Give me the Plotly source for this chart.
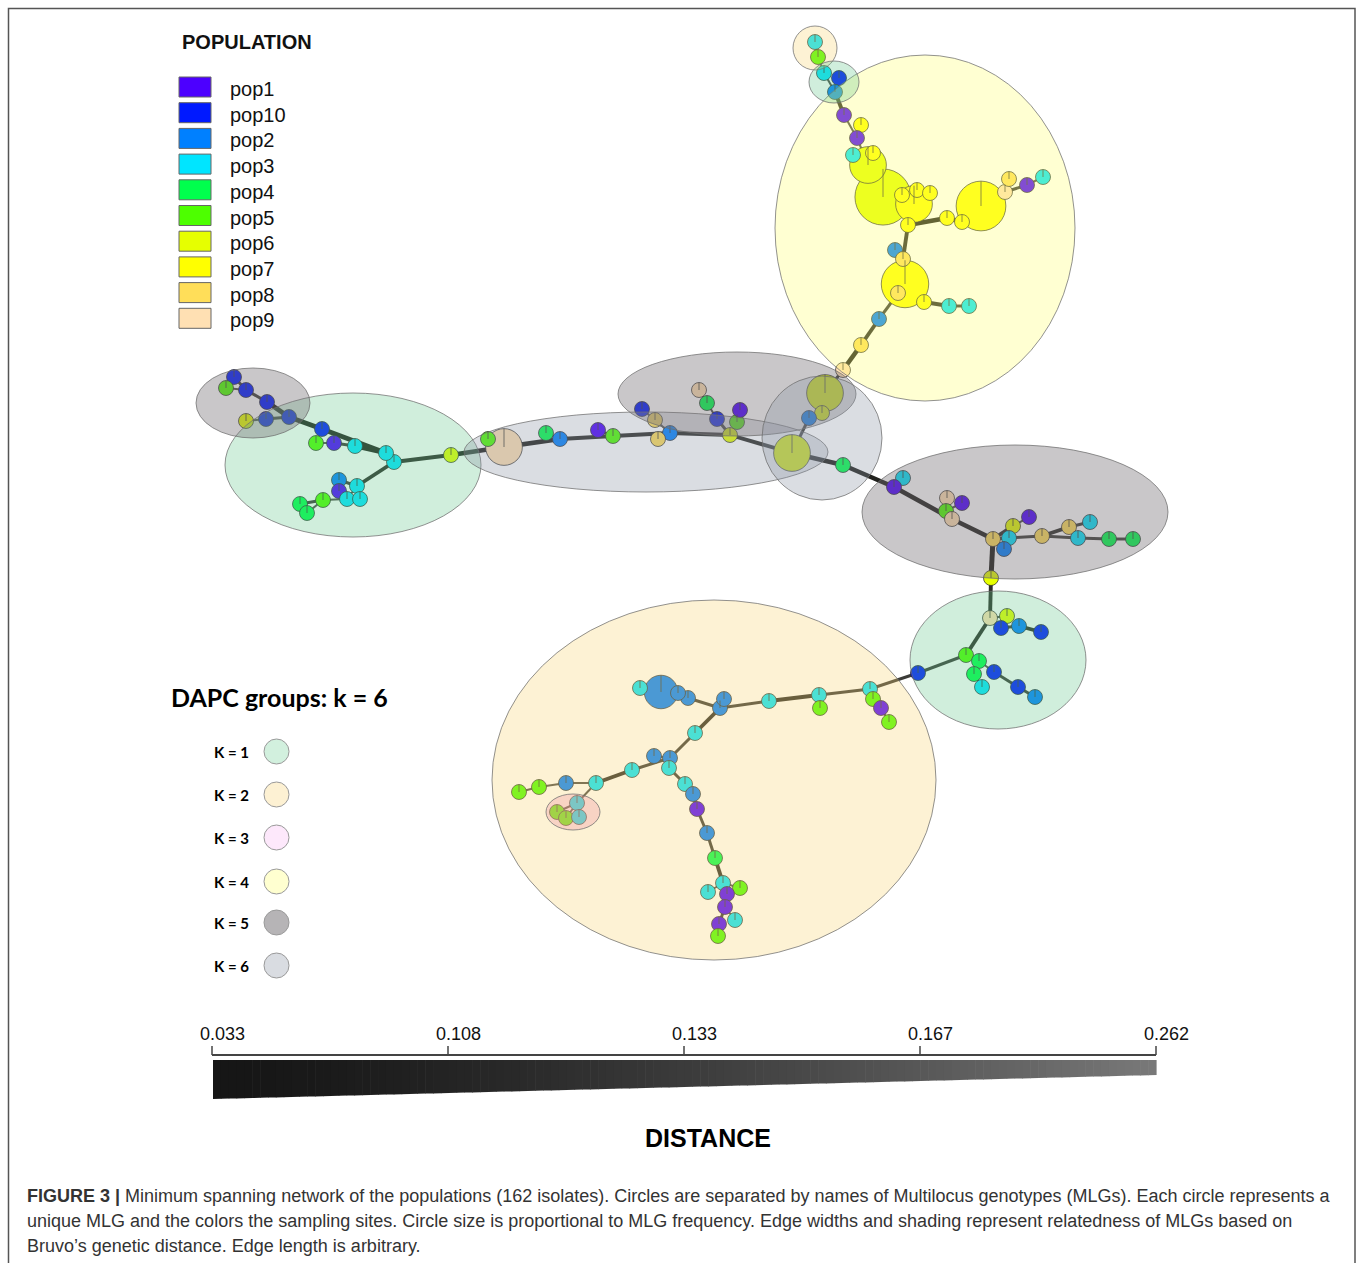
import numpy as np
import plotly.graph_objects as go

W, H = 1360, 1263

# ---------------- populations (legend) ----------------
POPS = ["pop1", "pop10", "pop2", "pop3", "pop4", "pop5", "pop6", "pop7", "pop8", "pop9"]
POP_COLORS = ["#4C00FF", "#0019FF", "#0080FF", "#00E5FF", "#00FF4D",
              "#4DFF00", "#E6FF00", "#FFFF00", "#FFDE59", "#FFE0B3"]

# ---------------- network nodes: (id, x, y, MLG count, population) ----------------
top_nodes = [
    ("T0", 815, 42, 1, "pop3"), ("T1", 818, 57, 1, "pop5"), ("T2", 824, 73, 1, "pop3"),
    ("T3", 839, 78, 1, "pop10"), ("T4", 835, 92, 1, "pop2"), ("T5", 844, 115, 1, "pop1"),
    ("T6", 861, 125, 1, "pop7"), ("T7", 857, 138, 1, "pop1"), ("T8", 853, 155, 1, "pop3"),
    ("T9", 868, 165, 6, "pop6"), ("T10", 873, 153, 1, "pop7"), ("T11", 883, 197, 14, "pop6"),
    ("T12", 902, 195, 1, "pop7"), ("T13", 914, 204, 6, "pop7"), ("T14", 917, 190, 1, "pop7"),
    ("T15", 930, 193, 1, "pop7"), ("T16", 908, 225, 1, "pop7"), ("T17", 947, 218, 1, "pop7"),
    ("T18", 962, 222, 1, "pop7"), ("T19", 981, 206, 11, "pop7"), ("T20", 1005, 192, 1, "pop9"),
    ("T21", 1009, 179, 1, "pop8"), ("T22", 1027, 185, 1, "pop1"), ("T23", 1043, 177, 1, "pop3"),
    ("T24", 895, 250, 1, "pop2"), ("T25", 903, 259, 1, "pop8"), ("T26", 905, 284, 10, "pop7"),
    ("T27", 898, 293, 1, "pop8"), ("T28", 924, 302, 1, "pop7"), ("T29", 949, 306, 1, "pop3"),
    ("T30", 969, 306, 1, "pop3"), ("T31", 879, 319, 1, "pop2"), ("T32", 861, 345, 1, "pop8"),
    ("T33", 843, 370, 1, "pop9"),
]
mid_nodes = [
    ("M0", 825, 393, 6, "pop6"), ("M1", 822, 413, 1, "pop6"), ("M2", 809, 418, 1, "pop2"),
    ("M3", 792, 453, 6, "pop6"), ("M4", 843, 465, 1, "pop4"), ("M6", 730, 435, 1, "pop6"),
    ("M7", 737, 422, 1, "pop5"), ("M8", 740, 410, 1, "pop1"), ("M9", 717, 419, 1, "pop10"),
    ("M10", 707, 403, 1, "pop4"), ("M11", 699, 390, 1, "pop9"), ("M12", 670, 433, 1, "pop2"),
    ("M13", 658, 439, 1, "pop8"), ("M14", 655, 420, 1, "pop8"), ("M15", 642, 409, 1, "pop10"),
    ("M16", 613, 436, 1, "pop5"), ("M17", 598, 430, 1, "pop1"), ("M18", 560, 439, 1, "pop2"),
    ("M19", 546, 433, 1, "pop4"), ("M20", 504, 447, 6, "pop9"), ("M21", 488, 439, 1, "pop5"),
    ("M22", 451, 455, 1, "pop6"),
]
left_nodes = [
    ("L0", 394, 462, 1, "pop3"), ("L1", 386, 453, 1, "pop3"), ("L2", 355, 446, 1, "pop3"),
    ("L3", 334, 443, 1, "pop1"), ("L4", 316, 443, 1, "pop5"), ("L5", 322, 429, 1, "pop10"),
    ("L6", 289, 417, 1, "pop10"), ("L7", 266, 419, 1, "pop10"), ("L8", 246, 421, 1, "pop6"),
    ("L9", 267, 402, 1, "pop10"), ("L10", 246, 390, 1, "pop10"), ("L11", 234, 377, 1, "pop10"),
    ("L12", 226, 388, 1, "pop5"), ("L13", 357, 486, 1, "pop3"), ("L14", 339, 480, 1, "pop2"),
    ("L15", 339, 491, 1, "pop1"), ("L16", 347, 499, 1, "pop3"), ("L17", 360, 499, 1, "pop3"),
    ("L18", 323, 500, 1, "pop5"), ("L19", 300, 504, 1, "pop4"), ("L20", 307, 513, 1, "pop4"),
]
right_nodes = [
    ("R0", 903, 478, 1, "pop3"), ("R1", 894, 487, 1, "pop1"), ("R2", 947, 498, 1, "pop9"),
    ("R3", 962, 503, 1, "pop1"), ("R4", 946, 511, 1, "pop5"), ("R5", 952, 519, 1, "pop9"),
    ("R6", 993, 539, 1, "pop8"), ("R7", 1013, 526, 1, "pop6"), ("R8", 1029, 517, 1, "pop1"),
    ("R9", 1009, 538, 1, "pop3"), ("R10", 1004, 549, 1, "pop2"), ("R11", 1042, 536, 1, "pop8"),
    ("R12", 1069, 527, 1, "pop8"), ("R13", 1090, 522, 1, "pop3"), ("R14", 1078, 538, 1, "pop3"),
    ("R15", 1109, 539, 1, "pop4"), ("R16", 1133, 539, 1, "pop4"), ("R17", 991, 578, 1, "pop6"),
    ("R18", 990, 618, 1, "pop9"), ("R19", 1007, 616, 1, "pop6"), ("R20", 1001, 628, 1, "pop10"),
    ("R21", 1019, 626, 1, "pop2"), ("R22", 1041, 632, 1, "pop10"), ("R23", 966, 655, 1, "pop5"),
    ("R24", 979, 661, 1, "pop4"), ("R25", 974, 674, 1, "pop4"), ("R26", 994, 672, 1, "pop10"),
    ("R27", 982, 687, 1, "pop3"), ("R28", 1018, 687, 1, "pop10"), ("R29", 1035, 697, 1, "pop2"),
]
bottom_nodes = [
    ("B0", 918, 673, 1, "pop10"), ("B1", 870, 689, 1, "pop3"), ("B2", 873, 699, 1, "pop5"),
    ("B3", 881, 708, 1, "pop1"), ("B4", 889, 722, 1, "pop5"), ("B5", 819, 695, 1, "pop3"),
    ("B6", 820, 708, 1, "pop5"), ("B7", 769, 701, 1, "pop3"), ("B8", 720, 708, 1, "pop2"),
    ("B9", 724, 699, 1, "pop2"), ("B10", 688, 698, 1, "pop2"), ("B11", 678, 693, 1, "pop2"),
    ("B12", 661, 692, 5, "pop2"), ("B13", 640, 688, 1, "pop3"), ("B14", 695, 733, 1, "pop3"),
    ("B15", 670, 758, 1, "pop2"), ("B16", 654, 756, 1, "pop2"), ("B17", 669, 768, 1, "pop3"),
    ("B18", 632, 770, 1, "pop3"), ("B19", 596, 783, 1, "pop3"), ("B20", 566, 783, 1, "pop2"),
    ("B21", 539, 787, 1, "pop5"), ("B22", 519, 792, 1, "pop5"), ("B23", 577, 803, 1, "pop3"),
    ("B24", 557, 812, 1, "pop5"), ("B25", 566, 818, 1, "pop5"), ("B26", 579, 817, 1, "pop3"),
    ("B27", 685, 784, 1, "pop3"), ("B28", 693, 794, 1, "pop2"), ("B29", 697, 809, 1, "pop1"),
    ("B30", 707, 833, 1, "pop2"), ("B31", 715, 858, 1, "pop4"), ("B32", 723, 883, 1, "pop3"),
    ("B33", 708, 892, 1, "pop3"), ("B34", 740, 888, 1, "pop5"), ("B35", 727, 894, 1, "pop1"),
    ("B36", 725, 907, 1, "pop1"), ("B37", 735, 920, 1, "pop3"), ("B38", 719, 924, 1, "pop1"),
    ("B39", 718, 936, 1, "pop5"),
]

# ---------------- network edges: (from, to, Bruvo distance) ----------------
top_edges = [
    ("T0", "T1", 0.2), ("T1", "T2", 0.2), ("T2", "T4", 0.2), ("T3", "T4", 0.2), ("T4", "T5", 0.1),
    ("T5", "T7", 0.2), ("T6", "T7", 0.2), ("T7", "T9", 0.2), ("T8", "T9", 0.2), ("T10", "T9", 0.2),
    ("T9", "T11", 0.15), ("T11", "T13", 0.15), ("T12", "T11", 0.2), ("T14", "T13", 0.2),
    ("T15", "T13", 0.2), ("T13", "T16", 0.1), ("T16", "T17", 0.06), ("T17", "T18", 0.1),
    ("T18", "T19", 0.1), ("T19", "T20", 0.2), ("T20", "T21", 0.2), ("T20", "T22", 0.15),
    ("T22", "T23", 0.2), ("T16", "T25", 0.1), ("T24", "T25", 0.2), ("T25", "T26", 0.15),
    ("T26", "T27", 0.2), ("T26", "T28", 0.15), ("T28", "T29", 0.1), ("T29", "T30", 0.15),
    ("T26", "T31", 0.15), ("T31", "T32", 0.1), ("T32", "T33", 0.06), ("T33", "M0", 0.15),
]
mid_edges = [
    ("M0", "M1", 0.15), ("M1", "M2", 0.15), ("M2", "M3", 0.15), ("M3", "M4", 0.06),
    ("M3", "M6", 0.1), ("M6", "M7", 0.2), ("M7", "M8", 0.2), ("M6", "M9", 0.15),
    ("M9", "M10", 0.2), ("M10", "M11", 0.2), ("M6", "M12", 0.1), ("M12", "M13", 0.2),
    ("M12", "M14", 0.2), ("M14", "M15", 0.2), ("M12", "M16", 0.1), ("M16", "M17", 0.15),
    ("M16", "M18", 0.1), ("M18", "M19", 0.15), ("M18", "M20", 0.06), ("M20", "M21", 0.15),
    ("M20", "M22", 0.06), ("M22", "L0", 0.1),
]
left_edges = [
    ("L0", "L1", 0.1), ("L1", "L2", 0.06), ("L2", "L3", 0.15), ("L3", "L4", 0.2),
    ("L1", "L5", 0.06), ("L5", "L6", 0.06), ("L6", "L7", 0.15), ("L7", "L8", 0.2),
    ("L6", "L9", 0.06), ("L9", "L10", 0.15), ("L10", "L11", 0.15), ("L10", "L12", 0.2),
    ("L0", "L13", 0.1), ("L13", "L14", 0.15), ("L14", "L15", 0.2), ("L13", "L16", 0.2),
    ("L13", "L17", 0.2), ("L16", "L18", 0.2), ("L18", "L19", 0.15), ("L19", "L20", 0.15),
    ("L18", "L20", 0.2),
]
right_edges = [
    ("M4", "R1", 0.06), ("R1", "R0", 0.2), ("R1", "R5", 0.06), ("R2", "R4", 0.2),
    ("R3", "R4", 0.2), ("R4", "R5", 0.2), ("R5", "R6", 0.06), ("R6", "R7", 0.1),
    ("R7", "R8", 0.2), ("R6", "R9", 0.15), ("R9", "R10", 0.2), ("R6", "R11", 0.15),
    ("R11", "R14", 0.15), ("R11", "R12", 0.1), ("R12", "R13", 0.15), ("R14", "R15", 0.15),
    ("R15", "R16", 0.15), ("R6", "R17", 0.04), ("R17", "R18", 0.1), ("R18", "R19", 0.2),
    ("R18", "R20", 0.2), ("R20", "R21", 0.15), ("R21", "R22", 0.1), ("R18", "R23", 0.1),
    ("R23", "R24", 0.2), ("R24", "R25", 0.2), ("R24", "R26", 0.2), ("R25", "R27", 0.2),
    ("R26", "R28", 0.15), ("R28", "R29", 0.15), ("R23", "B0", 0.15),
]
bottom_edges = [
    ("B0", "B1", 0.15), ("B1", "B2", 0.2), ("B2", "B3", 0.2), ("B3", "B4", 0.2),
    ("B1", "B5", 0.15), ("B5", "B6", 0.2), ("B5", "B7", 0.1), ("B7", "B8", 0.15),
    ("B8", "B9", 0.2), ("B8", "B10", 0.15), ("B10", "B11", 0.2), ("B11", "B12", 0.2),
    ("B12", "B13", 0.2), ("B8", "B14", 0.1), ("B14", "B15", 0.15), ("B15", "B16", 0.2),
    ("B15", "B17", 0.2), ("B15", "B18", 0.15), ("B18", "B19", 0.1), ("B19", "B20", 0.2),
    ("B20", "B21", 0.2), ("B21", "B22", 0.2), ("B19", "B23", 0.2), ("B23", "B24", 0.2),
    ("B23", "B25", 0.2), ("B23", "B26", 0.2), ("B17", "B27", 0.15), ("B27", "B28", 0.15),
    ("B28", "B29", 0.15), ("B29", "B30", 0.15), ("B30", "B31", 0.15), ("B31", "B32", 0.1),
    ("B32", "B33", 0.2), ("B32", "B34", 0.2), ("B32", "B35", 0.15), ("B35", "B36", 0.15),
    ("B36", "B37", 0.2), ("B36", "B38", 0.15), ("B38", "B39", 0.2),
]

# ---------------- DAPC group ellipses: (K, cx, cy, rx, ry) ----------------
dapc_ellipses = [
    (4, 925, 228, 150, 173),
    (2, 815, 48, 22, 22),
    (1, 834, 82, 25, 21),
    (1, 353, 465, 128, 72),
    (5, 253, 403, 57, 35),
    (6, 646, 452, 182, 40),
    (5, 737, 394, 119, 42),
    (6, 822, 438, 60, 62),
    (5, 1015, 512, 153, 67),
    (1, 998, 660, 88, 69),
    (2, 714, 780, 222, 180),
    (3, 573, 812, 27, 18),
]
DAPC_K = [1, 2, 3, 4, 5, 6]
DAPC_LEGEND_FILL = ["#d2f0de", "#fdf1d3", "#fde8fb", "#ffffd0", "#b6b4b6", "#d9dce1"]
DAPC_OVERLAY = {1: "rgba(98,198,138,0.30)", 2: "rgba(248,212,112,0.30)",
                3: "rgba(240,140,160,0.30)", 4: "rgba(255,255,105,0.30)",
                5: "rgba(120,115,120,0.40)", 6: "rgba(140,150,165,0.32)"}

# ---------------- distance scale ----------------
CB_TICKS = ["0.033", "0.108", "0.133", "0.167", "0.262"]
D_MIN, D_MAX = 0.033, 0.262

CAPTION = [
    "<b>FIGURE 3 |</b> Minimum spanning network of the populations (162 isolates). Circles are separated by names of Multilocus genotypes (MLGs). Each circle represents a",
    "unique MLG and the colors the sampling sites. Circle size is proportional to MLG frequency. Edge widths and shading represent relatedness of MLGs based on",
    "Bruvo\u2019s genetic distance. Edge length is arbitrary.",
]

# =====================================================================
nodes = top_nodes + mid_nodes + left_nodes + right_nodes + bottom_nodes
edges = top_edges + mid_edges + left_edges + right_edges + bottom_edges
pos = {n[0]: (n[1], n[2]) for n in nodes}
pcol = dict(zip(POPS, POP_COLORS))

fig = go.Figure()


def edge_width(d):
    return 0.9 + 4.2 * (D_MAX - d) / (D_MAX - D_MIN)


def edge_gray(d):
    g = int(25 + 70 * (d - D_MIN) / (D_MAX - D_MIN))
    return f"rgb({g},{g},{g - 4})"


for d in sorted(set(e[2] for e in edges)):
    xs, ys = [], []
    for a, b, dd in edges:
        if dd == d:
            xs += [pos[a][0], pos[b][0], None]
            ys += [pos[a][1], pos[b][1], None]
    fig.add_trace(go.Scatter(x=xs, y=ys, mode="lines",
                             line=dict(color=edge_gray(d), width=edge_width(d)),
                             hoverinfo="skip"))

sorted_nodes = sorted(nodes, key=lambda n: -n[3])
diam = [15 * np.sqrt(n[3]) for n in sorted_nodes]
fig.add_trace(go.Scatter(
    x=[n[1] for n in sorted_nodes], y=[n[2] for n in sorted_nodes], mode="markers",
    marker=dict(size=diam, color=[pcol[n[4]] for n in sorted_nodes],
                line=dict(color="rgba(45,45,45,0.75)", width=1), opacity=1),
    text=[f"{n[0]} ({n[4]})" for n in sorted_nodes], hoverinfo="text"))

# pie separator ticks inside each node
tx, ty = [], []
for n, dm in zip(sorted_nodes, diam):
    tx += [n[1], n[1], None]
    ty += [n[2], n[2] - dm / 2, None]
fig.add_trace(go.Scatter(x=tx, y=ty, mode="lines",
                         line=dict(color="rgba(60,60,50,0.8)", width=1), hoverinfo="skip"))

shapes = []
# DAPC ellipses (translucent overlays)
for k, cx, cy, rx, ry in dapc_ellipses:
    shapes.append(dict(type="circle", xref="x", yref="y", x0=cx - rx, x1=cx + rx,
                       y0=cy - ry, y1=cy + ry, fillcolor=DAPC_OVERLAY[k],
                       line=dict(color="rgba(110,110,110,0.75)", width=1), layer="above"))

# frame
shapes.append(dict(type="path", path="M 8.5 1270 L 8.5 8.5 L 1355 8.5 L 1355 1270",
                   line=dict(color="#555", width=1.5), xref="x", yref="y"))

annotations = []
FONT = "Liberation Sans, Arial, sans-serif"

# population legend
annotations.append(dict(x=180, y=42, text="<b>POPULATION</b>", showarrow=False,
                        xanchor="left", yanchor="middle", font=dict(family=FONT, size=20, color="#111")))
for i, (p, c) in enumerate(zip(POPS, POP_COLORS)):
    yc = 87 + i * 25.7
    shapes.append(dict(type="rect", xref="x", yref="y", x0=179, x1=211, y0=yc - 10, y1=yc + 10,
                       fillcolor=c, line=dict(color="#666", width=1)))
    annotations.append(dict(x=228, y=yc + 2, text=p, showarrow=False, xanchor="left",
                            yanchor="middle", font=dict(family=FONT, size=20, color="#111")))

# DAPC legend
annotations.append(dict(x=169, y=697, text="<b>DAPC groups: k = 6</b>", showarrow=False,
                        xanchor="left", yanchor="middle",
                        font=dict(family="Lato, Open Sans, sans-serif", size=25, color="#000")))
dapc_rows = [752, 795, 838, 882, 923, 966]
for k, fc, yc in zip(DAPC_K, DAPC_LEGEND_FILL, dapc_rows):
    annotations.append(dict(x=231, y=yc, text=f"<b>K = {k}</b>", showarrow=False,
                            xanchor="center", yanchor="middle",
                            font=dict(family="Lato, Open Sans, sans-serif", size=15, color="#000")))
    shapes.append(dict(type="circle", xref="x", yref="y", x0=264, x1=289, y0=yc - 13, y1=yc + 12,
                       fillcolor=fc, line=dict(color="#999", width=1)))

# distance colour wedge
x_left, x_right = 213, 1156
n_sl = 120
for i in range(n_sl):
    f0, f1 = i / n_sl, (i + 1) / n_sl
    xa, xb = x_left + f0 * (x_right - x_left), x_left + f1 * (x_right - x_left) + 0.6
    ya, yb = 1099 - 24 * f0, 1099 - 24 * f1
    g = int(22 + 100 * (f0 ** 1.4))
    shapes.append(dict(type="path", xref="x", yref="y",
                       path=f"M {xa} 1060 L {xb} 1060 L {xb} {yb} L {xa} {ya} Z",
                       fillcolor=f"rgb({g},{g},{g})", line=dict(width=0)))
# scale axis
shapes.append(dict(type="line", xref="x", yref="y", x0=212, x1=1156, y0=1055, y1=1055,
                   line=dict(color="#444", width=2)))
tick_x = np.linspace(212, 1156, len(CB_TICKS))
for tx_, lab in zip(tick_x, CB_TICKS):
    shapes.append(dict(type="line", xref="x", yref="y", x0=tx_, x1=tx_, y0=1046, y1=1055,
                       line=dict(color="#444", width=1.5)))
    annotations.append(dict(x=tx_ + 10, y=1034, text=lab, showarrow=False, xanchor="center",
                            yanchor="middle", font=dict(family=FONT, size=18, color="#111")))
annotations.append(dict(x=708, y=1138, text="<b>DISTANCE</b>", showarrow=False,
                        xanchor="center", yanchor="middle", font=dict(family=FONT, size=25, color="#000")))

# caption
for i, line in enumerate(CAPTION):
    annotations.append(dict(x=25, y=1196 + 25 * i, text=line, showarrow=False, xanchor="left",
                            yanchor="middle", font=dict(family=FONT, size=18, color="#333")))

for a in annotations:
    a["xref"] = "x"
    a["yref"] = "y"

fig.update_layout(
    width=W, height=H, margin=dict(l=0, r=0, t=0, b=0),
    paper_bgcolor="white", plot_bgcolor="white", showlegend=False,
    xaxis=dict(range=[0, W], visible=False, fixedrange=True),
    yaxis=dict(range=[H, 0], visible=False, fixedrange=True),
    shapes=shapes, annotations=annotations,
)
# remove the default page margin so that data units coincide with screen pixels
fig.write_html("out.html", config={"displayModeBar": False},
               post_script="document.body.style.margin='0px';document.body.style.overflow='hidden';")
